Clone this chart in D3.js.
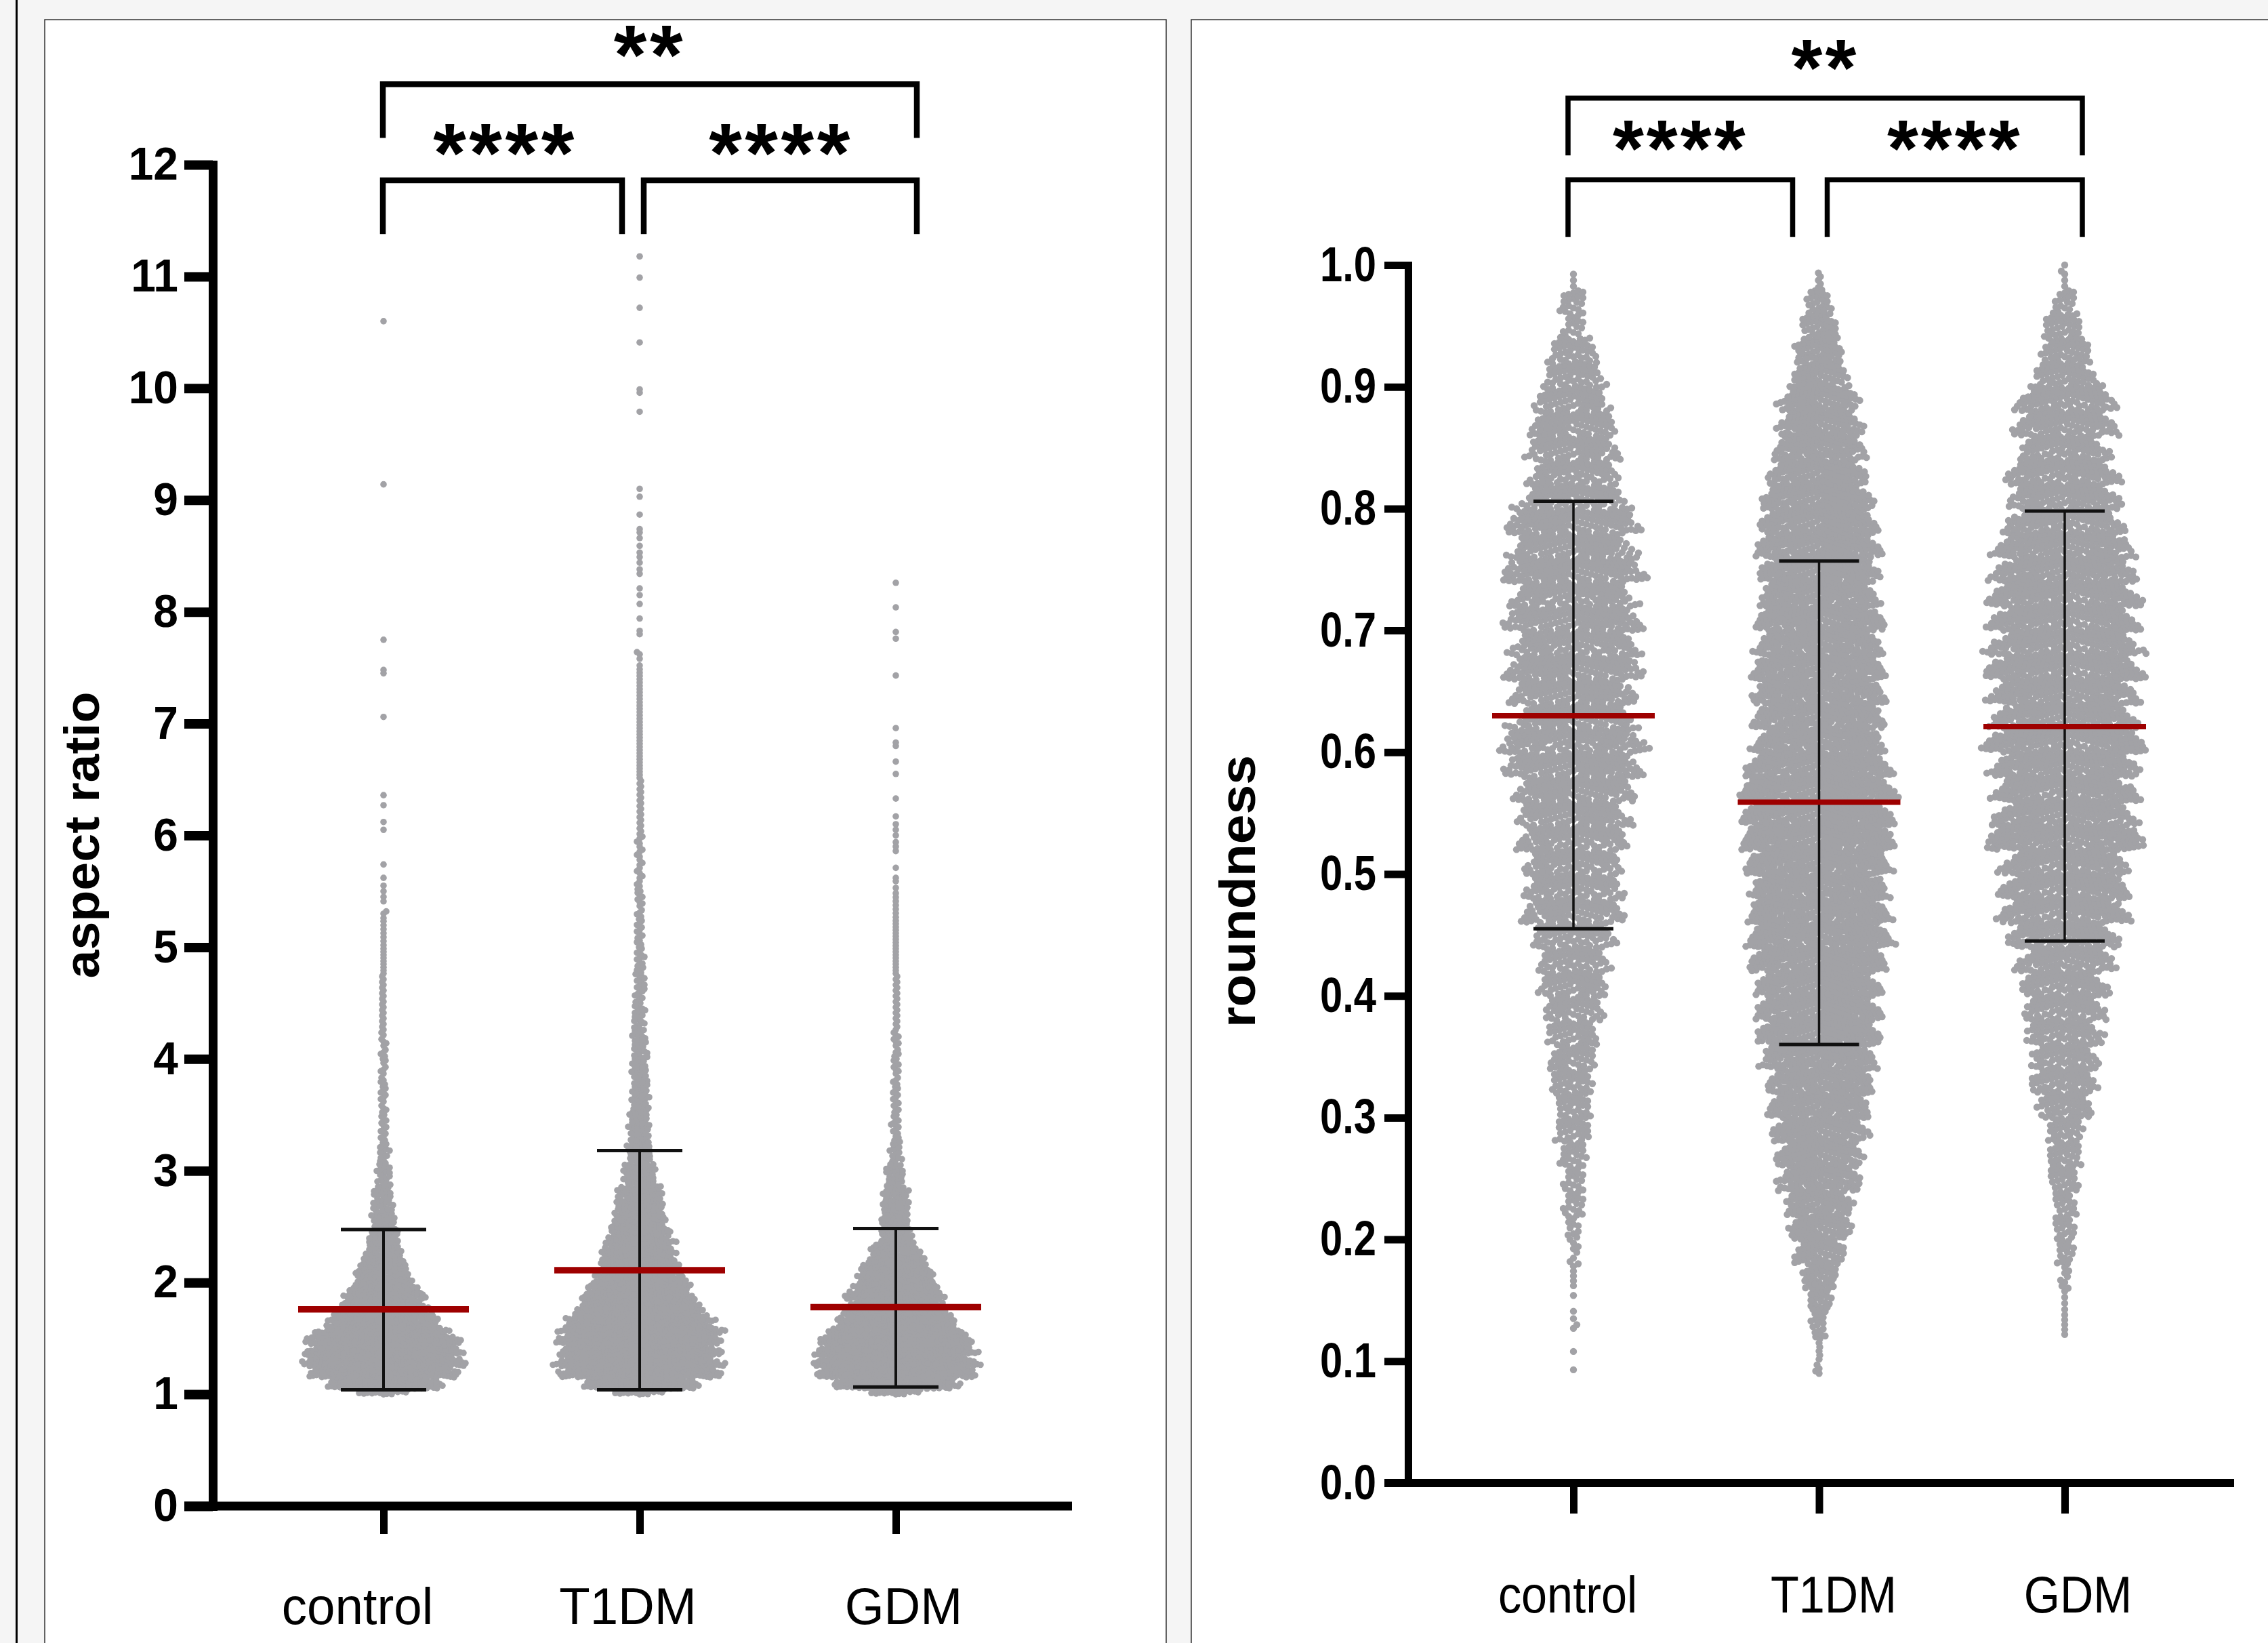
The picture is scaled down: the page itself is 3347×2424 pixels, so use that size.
<!DOCTYPE html>
<html>
<head>
<meta charset="utf-8">
<title>aspect ratio and roundness</title>
<script src="https://cdn.jsdelivr.net/npm/d3@7"></script>
<style>
  html, body { margin: 0; padding: 0; background: #f5f5f5; }
  svg { display: block; }
  text { font-family: "Liberation Sans", Arial, sans-serif; fill: #000; }
</style>
</head>
<body>
<div id="chart"></div>
<script>
// ── Data ─────────────────────────────────────────────────────────────────
const categories = ['control', 'T1DM', 'GDM'];

// aspect ratio panel
const aspectTicks = [0, 1, 2, 3, 4, 5, 6, 7, 8, 9, 10, 11, 12];
const aspectMeans = [1.76, 2.11, 1.78];
const aspectSdLow = [1.04, 1.04, 1.066];
const aspectSdHigh = [2.474, 3.18, 2.483];
// dots counted per value bin, the swarm outline
const aspectEdges = [1, 1.05, 1.15, 1.25, 1.35, 1.45, 1.55, 1.65, 1.75, 1.85, 1.95, 2.05, 2.15, 2.25, 2.35, 2.45, 2.55, 2.65, 2.85, 3.05, 3.25, 3.5, 3.75, 4, 4.25, 4.5, 4.75, 5, 5.25, 5.5, 6, 6.5, 7, 7.5];
const aspectControlCounts = [25, 105, 130, 140, 135, 135, 104, 95, 74, 68, 50, 43, 36, 29, 26, 19, 18, 29, 20, 15, 13, 12, 11, 11, 10, 10, 9, 7, 0, 0, 0, 0, 0];
const aspectT1dmCounts = [25, 105, 145, 142, 140, 143, 135, 122, 107, 95, 84, 74, 65, 59, 53, 48, 43, 78, 56, 39, 44, 38, 34, 28, 21, 18, 16, 13, 12, 22, 20, 18, 17];
const aspectGdmCounts = [25, 115, 140, 142, 140, 136, 110, 101, 84, 84, 68, 62, 50, 39, 28, 25, 23, 42, 28, 16, 15, 13, 12, 12, 10, 10, 9, 9, 7, 0, 0, 0, 0];
// single dots above the swarm
const aspectControlSingles = [5.26, 5.30, 5.32, 5.41, 5.45, 5.50, 5.55, 5.62, 5.74, 6.05, 6.12, 6.27, 6.36, 7.06, 7.45, 7.48, 7.75, 9.14, 10.60];
const aspectT1dmSingles = [7.52, 7.58, 7.62, 7.64, 7.80, 7.83, 7.94, 8.07, 8.15, 8.21, 8.34, 8.38, 8.44, 8.49, 8.53, 8.59, 8.66, 8.71, 8.74, 8.87, 9.03, 9.10, 9.79, 9.96, 9.99, 10.41, 10.72, 10.99, 11.18];
const aspectGdmSingles = [5.53, 5.59, 5.62, 5.71, 5.86, 5.90, 5.94, 6.00, 6.05, 6.10, 6.17, 6.33, 6.55, 6.66, 6.80, 6.83, 6.96, 7.43, 7.76, 7.82, 8.04, 8.26];

// roundness panel
const roundTicks = [0, 0.1, 0.2, 0.3, 0.4, 0.5, 0.6, 0.7, 0.8, 0.9, 1.0];
const roundMeans = [0.630, 0.559, 0.621];
const roundSdLow = [0.455, 0.360, 0.445];
const roundSdHigh = [0.806, 0.757, 0.798];
const roundEdges = [0.10, 0.12, 0.14, 0.16, 0.18, 0.20, 0.22, 0.24, 0.26, 0.28, 0.30, 0.32, 0.34, 0.36, 0.38, 0.40, 0.42, 0.44, 0.46, 0.48, 0.50, 0.52, 0.54, 0.56, 0.58, 0.60, 0.62, 0.64, 0.66, 0.68, 0.70, 0.72, 0.74, 0.76, 0.78, 0.80, 0.82, 0.84, 0.86, 0.88, 0.90, 0.92, 0.94, 0.96, 0.98, 0.995];
const roundControlCounts = [0, 0, 0, 5, 7, 11, 16, 16, 21, 28, 28, 35, 37, 41, 47, 56, 56, 67, 84, 80, 80, 93, 93, 101, 118, 123, 97, 105, 118, 105, 118, 101, 123, 101, 114, 84, 71, 75, 71, 58, 46, 37, 16, 20, 3];
const roundT1dmCounts = [6, 15, 24, 36, 50, 67, 73, 90, 96, 107, 113, 121, 130, 142, 142, 142, 159, 165, 165, 159, 170, 182, 176, 182, 165, 147, 151, 153, 153, 142, 147, 132, 136, 142, 132, 124, 107, 98, 90, 84, 55, 50, 36, 24, 5];
const roundGdmCounts = [0, 5, 4, 8, 15, 18, 18, 25, 28, 31, 48, 58, 58, 68, 72, 77, 87, 102, 122, 122, 117, 157, 132, 137, 142, 157, 137, 142, 152, 142, 142, 147, 137, 132, 107, 102, 102, 77, 92, 87, 53, 43, 33, 18, 3];
const roundControlSingles = [0.093, 0.108, 0.127, 0.130, 0.135, 0.141, 0.154];
const roundT1dmSingles = [0.090, 0.092, 0.094, 0.097];
const roundGdmSingles = [0.995, 1.0];

// ── Panels ───────────────────────────────────────────────────────────────
const W = 3347, H = 2424;
const svg = d3.select('#chart').append('svg').attr('width', W).attr('height', H);
const dotColor = '#a2a2a6';
const meanColor = '#9e0000';

svg.append('rect').attr('width', W).attr('height', H).attr('fill', '#f5f5f5');
svg.append('line').attr('x1', 24.5).attr('x2', 24.5).attr('y1', 0).attr('y2', H)
    .attr('stroke', '#000').attr('stroke-width', 3);
svg.append('rect').attr('x', 66).attr('y', 29).attr('width', 1655).attr('height', H)
    .attr('fill', '#fff').attr('stroke', '#333').attr('stroke-width', 1.5);
svg.append('rect').attr('x', 1758).attr('y', 29).attr('width', 1700).attr('height', H)
    .attr('fill', '#fff').attr('stroke', '#333').attr('stroke-width', 1.5);

// swarm layout: spreads the dots of each bin sideways until they no longer collide
function layoutSwarm(edges, counts, singles, y, gap) {
    const placed = [];
    const cell = new Map();
    const keyOf = (cx, cy) => cx * 100000 + cy;
    const clear = (px, py) => {
        const cx = Math.floor(px / gap), cy = Math.floor(py / gap);
        for (let i = cx - 1; i <= cx + 1; i++) {
            for (let j = cy - 1; j <= cy + 1; j++) {
                for (const p of cell.get(keyOf(i + 1000, j)) || []) {
                    if ((p.dx - px) ** 2 + (p.py - py) ** 2 < gap * gap) return false;
                }
            }
        }
        return true;
    };
    const add = (py) => {
        const sign = placed.length % 2 ? 1 : -1;
        for (let k = 0; k < 400; k++) {
            const dx = (k % 2 ? 1 : -1) * sign * Math.ceil(k / 2);
            if (clear(dx, py)) {
                const key = keyOf(Math.floor(dx / gap) + 1000, Math.floor(py / gap));
                if (!cell.has(key)) cell.set(key, []);
                cell.get(key).push({ dx, py });
                placed.push({ dx, py });
                return;
            }
        }
    };
    counts.forEach((n, b) => {
        const top = y(edges[b + 1]), bottom = y(edges[b]);
        // a bin wider than one column is filled out of order, so the packing is not striped
        const wide = n > 1.2 * (bottom - top) / gap;
        d3.range(n).forEach(i => {
            const s = wide ? (i * 0.618034) % 1 : (i + 0.5) / n;
            add(bottom + (top - bottom) * s);
        });
    });
    singles.forEach(v => add(y(v)));
    return placed;
}

function drawPanel(p) {
    const x = d3.scalePoint().domain(categories).range(p.xRange);
    const y = d3.scaleLinear().domain([0, p.yMax]).range(p.yRange);
    const g = svg.append('g');

    // swarms
    p.counts.forEach((counts, i) => {
        const dots = layoutSwarm(p.edges, counts, p.singles[i], y, p.gaps[i]);
        g.append('g').attr('fill', dotColor).selectAll('circle')
            .data(dots)
            .join('circle')
            .attr('cx', d => x(categories[i]) + d.dx)
            .attr('cy', d => d.py)
            .attr('r', p.dotR);
    });

    // error bars and means
    categories.forEach((c, i) => {
        const cx = x(c);
        g.append('line').attr('x1', cx).attr('x2', cx)
            .attr('y1', y(p.sdLow[i])).attr('y2', y(p.sdHigh[i]))
            .attr('stroke', '#111').attr('stroke-width', p.stemW);
        [p.sdLow[i], p.sdHigh[i]].forEach(v => {
            g.append('line').attr('x1', cx - p.capW).attr('x2', cx + p.capW)
                .attr('y1', y(v)).attr('y2', y(v))
                .attr('stroke', '#111').attr('stroke-width', p.capH);
        });
        g.append('line').attr('x1', cx - p.meanW).attr('x2', cx + p.meanW)
            .attr('y1', y(p.means[i])).attr('y2', y(p.means[i]))
            .attr('stroke', meanColor).attr('stroke-width', p.meanH);
    });

    // y axis
    const yAxis = g.append('g').attr('transform', 'translate(' + p.axisX + ',0)')
        .call(d3.axisLeft(y).tickValues(p.ticks).tickSize(p.tickLen).tickSizeOuter(0)
            .tickFormat(p.tickFormat));
    yAxis.select('.domain').attr('stroke', '#000').attr('stroke-width', p.axisW)
        .attr('stroke-linecap', 'square');
    yAxis.selectAll('.tick line').attr('stroke', '#000').attr('stroke-width', p.tickW);
    yAxis.selectAll('.tick text')
        .attr('x', -p.labelGap / p.yLabelSx)
        .attr('transform', 'scale(' + p.yLabelSx + ',1)')
        .style('font-size', p.yLabelSize + 'px').style('font-weight', '700');

    // x axis
    g.append('line').attr('x1', p.axisX - p.tickLen).attr('x2', p.axisEnd)
        .attr('y1', y(0)).attr('y2', y(0))
        .attr('stroke', '#000').attr('stroke-width', p.baseW);
    const xAxis = g.append('g').attr('transform', 'translate(0,' + y(0) + ')')
        .call(d3.axisBottom(x).tickSize(p.xTickLen).tickSizeOuter(0));
    xAxis.select('.domain').remove();
    xAxis.selectAll('.tick line').attr('stroke', '#000').attr('stroke-width', 11);
    xAxis.selectAll('.tick text')
        .attr('x', (d, i) => p.labelShift[i] / p.xLabelSx)
        .attr('y', p.xLabelY).attr('dy', 0)
        .attr('transform', 'scale(' + p.xLabelSx + ',1)')
        .style('font-size', p.xLabelSize + 'px');

    // axis title
    g.append('text')
        .attr('transform', 'translate(' + p.titleX + ',' + p.titleY + ') rotate(-90)')
        .attr('text-anchor', 'middle')
        .attr('textLength', p.titleLen).attr('lengthAdjust', 'spacingAndGlyphs')
        .style('font-size', p.titleSize + 'px').style('font-weight', '700')
        .text(p.title);

    // significance brackets
    p.brackets.forEach(b => {
        const x0 = x(b.from) + b.fromDx, x1 = x(b.to) + b.toDx;
        const line = d3.line();
        g.append('path')
            .attr('d', line([[x0, y(b.foot)], [x0, y(b.top)], [x1, y(b.top)], [x1, y(b.foot)]]))
            .attr('fill', 'none').attr('stroke', '#000').attr('stroke-width', p.bracketW)
            .attr('stroke-linejoin', 'miter');
        g.append('text')
            .attr('x', (x0 + x1) / 2 + b.labelDx).attr('y', y(b.labelY))
            .attr('text-anchor', 'middle')
            .style('font-size', p.starSize + 'px').style('font-weight', '700')
            .style('letter-spacing', p.starSpace + 'px')
            .text(b.label);
    });
}

drawPanel({
    xRange: [566, 1322], yRange: [2222, 243], yMax: 12,
    ticks: aspectTicks, tickFormat: d3.format('d'),
    edges: aspectEdges,
    counts: [aspectControlCounts, aspectT1dmCounts, aspectGdmCounts],
    singles: [aspectControlSingles, aspectT1dmSingles, aspectGdmSingles],
    gaps: [4.5, 4.5, 4.5], dotR: 4.8,
    means: aspectMeans, sdLow: aspectSdLow, sdHigh: aspectSdHigh,
    stemW: 4, capW: 63, capH: 5, meanW: 126, meanH: 9.5,
    axisX: 314, axisW: 13, axisEnd: 1582, tickLen: 42, tickW: 14, baseW: 13, xTickLen: 41,
    labelGap: 51, yLabelSize: 68, yLabelSx: 0.97,
    labelShift: [-39, -18, 11], xLabelY: 174, xLabelSize: 76, xLabelSx: 0.98,
    title: 'aspect ratio', titleX: 146, titleY: 1232, titleLen: 423, titleSize: 72,
    bracketW: 8.5, starSize: 125, starSpace: 4.5,
    brackets: [
        { from: 'control', to: 'GDM', fromDx: -1, toDx: 31, top: 12.72, foot: 12.24, label: '**', labelY: 12.72, labelDx: 0 },
        { from: 'control', to: 'T1DM', fromDx: -1, toDx: -26, top: 11.86, foot: 11.38, label: '****', labelY: 11.84, labelDx: 4 },
        { from: 'T1DM', to: 'GDM', fromDx: 6, toDx: 31, top: 11.86, foot: 11.38, label: '****', labelY: 11.84, labelDx: 1 }
    ]
});

drawPanel({
    xRange: [2322, 3047], yRange: [2188, 391], yMax: 1,
    ticks: roundTicks, tickFormat: d3.format('.1f'),
    edges: roundEdges,
    counts: [roundControlCounts, roundT1dmCounts, roundGdmCounts],
    singles: [roundControlSingles, roundT1dmSingles, roundGdmSingles],
    gaps: [7.1, 6, 6.4], dotR: 5.2,
    means: roundMeans, sdLow: roundSdLow, sdHigh: roundSdHigh,
    stemW: 3.5, capW: 59, capH: 5, meanW: 120, meanH: 8,
    axisX: 2078, axisW: 11, axisEnd: 3297, tickLen: 35, tickW: 11, baseW: 12, xTickLen: 45,
    labelGap: 47, yLabelSize: 72, yLabelSx: 0.83,
    labelShift: [-9, 21, 19], xLabelY: 191, xLabelSize: 76, xLabelSx: 0.9,
    title: 'roundness', titleX: 1852, titleY: 1315, titleLen: 402, titleSize: 74,
    bracketW: 7.5, starSize: 118, starSpace: 4,
    brackets: [
        { from: 'control', to: 'GDM', fromDx: -8, toDx: 26, top: 1.137, foot: 1.09, label: '**', labelY: 1.139, labelDx: 0 },
        { from: 'control', to: 'T1DM', fromDx: -8, toDx: -39, top: 1.07, foot: 1.023, label: '****', labelY: 1.073, labelDx: 0 },
        { from: 'T1DM', to: 'GDM', fromDx: 12, toDx: 26, top: 1.07, foot: 1.023, label: '****', labelY: 1.073, labelDx: 0 }
    ]
});
</script>
</body>
</html>
